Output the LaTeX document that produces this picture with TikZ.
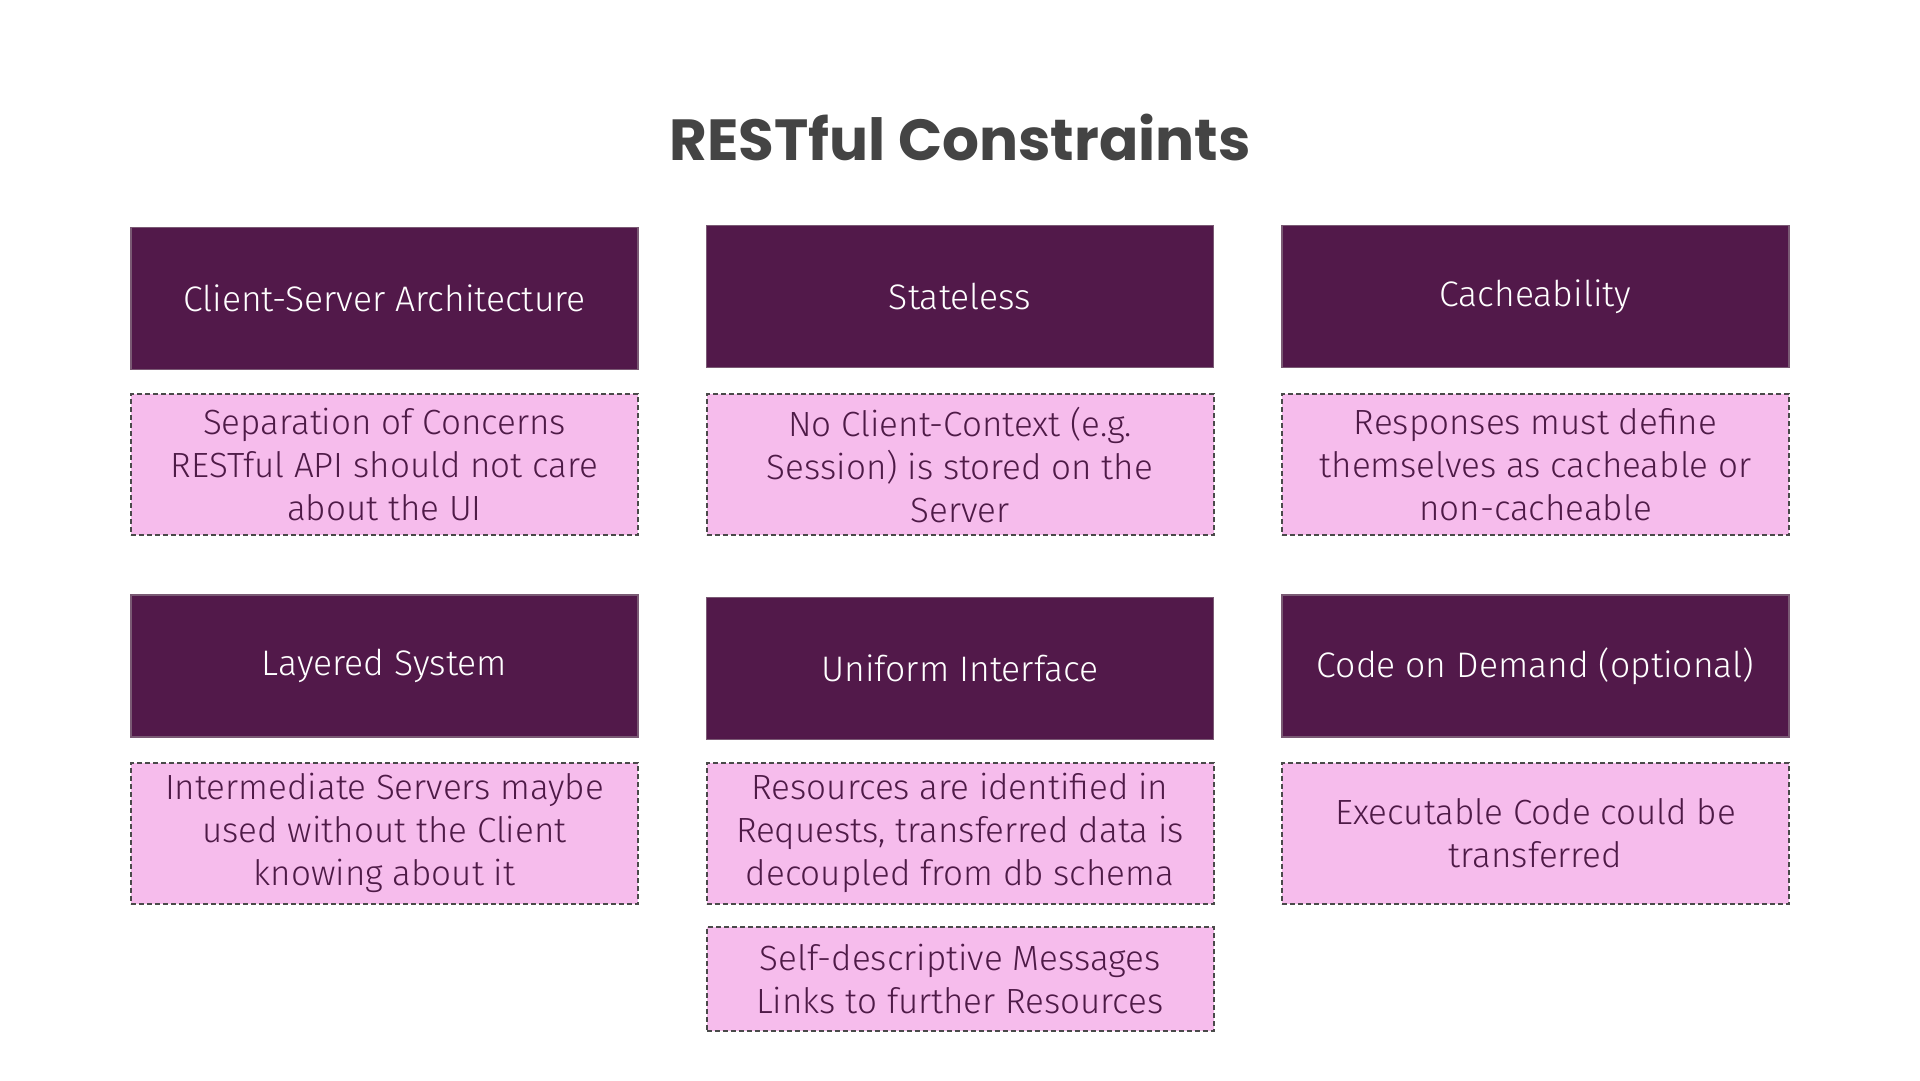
\documentclass[tikz,border=0pt]{standalone}
\usepackage{fontspec}
\newfontfamily\bodyfont{Fira Sans}[UprightFont=* Light]
\newfontfamily\titlefont{Poppins}[UprightFont=* Bold]
\definecolor{darkbox}{HTML}{52194A}
\definecolor{darkedge}{HTML}{7A5A74}
\definecolor{pinkbox}{HTML}{F6BCEC}
\definecolor{pinktext}{HTML}{4E1A47}
\definecolor{titlegray}{HTML}{444444}
\definecolor{dashgray}{HTML}{4A4A4A}
\begin{document}
\begin{tikzpicture}[x=1pt,y=-1pt,
  headbox/.style={draw=darkedge, line width=1.2pt, fill=darkbox, text=white,
    minimum width=507pt, minimum height=142pt, inner sep=0pt,
    font=\bodyfont\fontsize{35.5}{43}\selectfont, align=center},
  notebox/.style={draw=dashgray, line width=2pt, dash pattern=on 5pt off 3pt,
    fill=pinkbox, text=pinktext,
    minimum width=507pt, minimum height=141pt, inner sep=0pt,
    font=\bodyfont\fontsize{35}{43}\selectfont, align=center}]
\useasboundingbox (0,0) rectangle (1920,1080);
\fill[white] (0,0) rectangle (1920,1080);
\node[font=\titlefont\fontsize{58}{68}\selectfont, text=titlegray] (title) at (960,137) {RESTful Constraints};
% row 1
\node[headbox] (h1) at (384.5,298.8) {Client-Server Architecture};
\node[headbox] (h2) at (960,296.3) {Stateless};
\node[headbox] (h3) at (1535.5,296.3) {Cacheability};
\node[notebox] (n1) at (384.5,464.7) {Separation of Concerns\\RESTful API should not care\\about the UI};
\node[notebox] (n2) at (960,464.7) {No Client-Context (e.g.\\Session) is stored on the\\Server};
\node[notebox] (n3) at (1535.5,464.7) {Responses must define\\themselves as cacheable or\\non-cacheable};
% row 2
\node[headbox] (h4) at (384.5,666) {Layered System};
\node[headbox] (h5) at (960,668.6) {Uniform Interface};
\node[headbox] (h6) at (1535.5,666) {Code on Demand (optional)};
\node[notebox] (n4) at (384.5,833.3) {Intermediate Servers maybe\\used without the Client\\knowing about it};
\node[notebox] (n5) at (960,833.3) {Resources are identified in\\Requests, transferred data is\\decoupled from db schema};
\node[notebox] (n6) at (1535.5,833.3) {Executable Code could be\\transferred};
\node[notebox, minimum height=104pt] (n7) at (960,979) {Self-descriptive Messages\\Links to further Resources};
\end{tikzpicture}
\end{document}
